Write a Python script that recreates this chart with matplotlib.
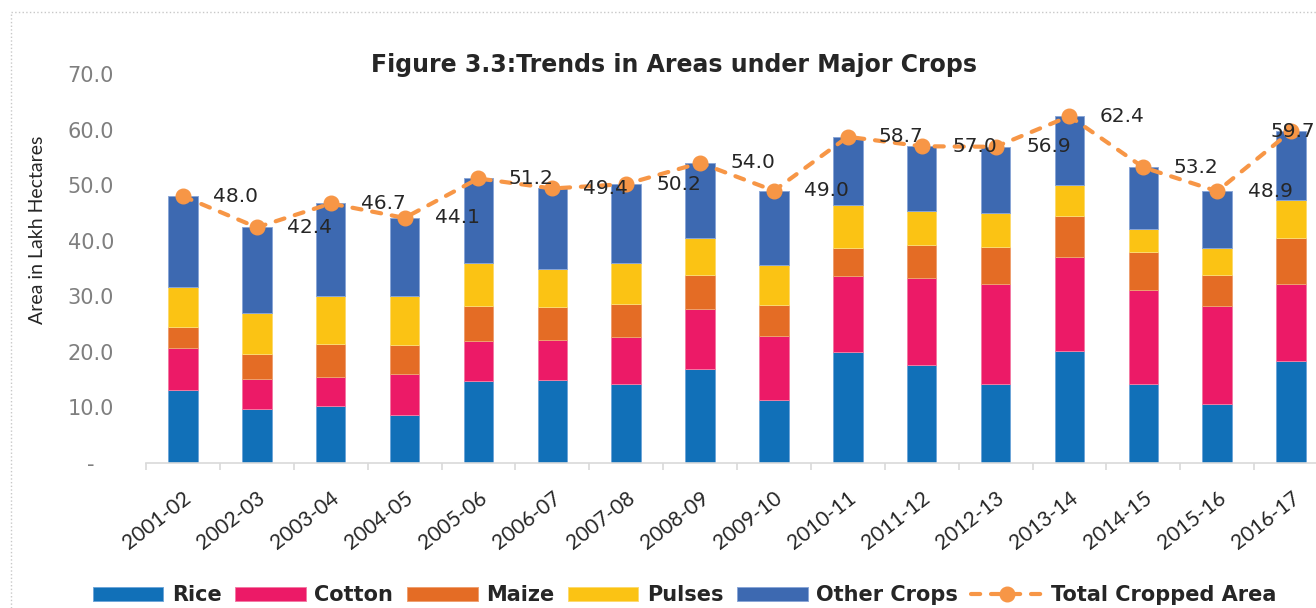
import matplotlib.pyplot as plt
from matplotlib.lines import Line2D
import numpy as np

years = ['2001-02', '2002-03', '2003-04', '2004-05', '2005-06', '2006-07', '2007-08', '2008-09',
         '2009-10', '2010-11', '2011-12', '2012-13', '2013-14', '2014-15', '2015-16', '2016-17']
rice = [13.2, 9.7, 10.3, 8.7, 14.7, 15.0, 14.2, 17.0, 11.3, 19.9, 17.6, 14.3, 20.1, 14.3, 10.6, 18.4]
cotton = [7.5, 5.4, 5.2, 7.4, 7.2, 7.2, 8.5, 10.8, 11.5, 13.8, 15.7, 18.0, 16.9, 16.8, 17.6, 13.9]
maize = [3.7, 4.5, 6.0, 5.2, 6.3, 5.9, 6.0, 6.1, 5.7, 5.0, 5.9, 6.6, 7.4, 6.9, 5.7, 8.1]
pulses = [7.2, 7.4, 8.6, 8.8, 7.7, 6.9, 7.3, 6.5, 7.1, 7.7, 6.1, 6.1, 5.6, 4.1, 4.8, 6.9]
total = [48.0, 42.4, 46.7, 44.1, 51.2, 49.4, 50.2, 54.0, 49.0, 58.7, 57.0, 56.9, 62.4, 53.2, 48.9, 59.7]
other = [round(t - r - c - m - p, 1) for t, r, c, m, p in zip(total, rice, cotton, maize, pulses)]

names = ['Rice', 'Cotton', 'Maize', 'Pulses', 'Other Crops']
colors = ['#1170B8', '#EC1A67', '#E46C25', '#FBC314', '#3D69B1']
edges = ['#6FA6D8', '#F27AA4', '#EEA070', '#FCDA70', '#8AA6D6']
line_color = '#F79646'

fig = plt.figure(figsize=(13.16, 6.08), dpi=100)
ax = fig.add_axes([146 / 1316, 145 / 608, 1182 / 1316, 389 / 608])

x = np.arange(len(years))
bottom = np.zeros(len(years))
for vals, name, col, ec in zip([rice, cotton, maize, pulses, other], names, colors, edges):
    ax.bar(x, vals, 0.4, bottom=bottom, color=col, edgecolor=ec, linewidth=0.7, label=name, zorder=2)
    bottom += np.array(vals)

ax.plot(x, total, color=line_color, lw=3, dashes=(2.2, 2.6), dash_capstyle='round',
        marker='o', markersize=10.5, label='Total Cropped Area', zorder=3)

# data labels sit to the right of each point; the last one is squeezed in by the edge
for i, t in enumerate(total):
    dx = 1 if i == len(total) - 1 else 38
    ax.annotate(f'{t:.1f}', (x[i], t), xytext=(dx, 0), textcoords='offset points',
                ha='center', va='center', fontsize=14.5, color='#262626', zorder=4)

ax.set_xlim(-0.5, 15.5)
ax.set_ylim(0, 70)
ax.set_yticks(np.arange(0, 71, 10))
ax.set_yticklabels(['-   '] + [f'{v:.1f}' for v in range(10, 71, 10)],
                   fontsize=15, color='#7F7F7F')
ax.tick_params(axis='y', length=0, pad=23)

ax.set_xticks(x)
ax.set_xticklabels(years, rotation=38, ha='right', rotation_mode='anchor',
                   fontsize=15, family='Lato', color='#262626')
ax.tick_params(axis='x', length=0, pad=18)
ax.set_xticks(np.arange(-0.5, 16, 1), minor=True)
ax.tick_params(axis='x', which='minor', length=5, color='#D9D9D9', width=1.2)

for s in ['top', 'right', 'left']:
    ax.spines[s].set_visible(False)
ax.spines['bottom'].set_color('#D9D9D9')
ax.spines['bottom'].set_linewidth(1.2)

ax.set_ylabel('Area in Lakh Hectares', fontsize=14, family='Lato', color='#262626')
ax.yaxis.set_label_coords(-0.085, 0.6)

fig.text(0.512, 0.893, 'Figure 3.3:Trends in Areas under Major Crops', ha='center', va='center',
         fontsize=17, fontweight='bold', color='#262626')

handles, labels = ax.get_legend_handles_labels()
handles = handles[1:] + handles[:1]
labels = labels[1:] + labels[:1]
fig.legend(handles, labels, loc='center', bbox_to_anchor=(0.52, 0.021), ncol=6, frameon=False,
           prop={'weight': 'bold', 'size': 15}, handlelength=3.4, handleheight=0.6,
           handletextpad=0.4, columnspacing=0.65, labelcolor='#262626')

fig.add_artist(Line2D([11 / 1316, 1], [1 - 12 / 608, 1 - 12 / 608], color='#C8C8C8', lw=1, ls=':'))
fig.add_artist(Line2D([11 / 1316, 11 / 1316], [0, 1 - 12 / 608], color='#C8C8C8', lw=1, ls=':'))

fig.savefig('out.png', dpi=100)
